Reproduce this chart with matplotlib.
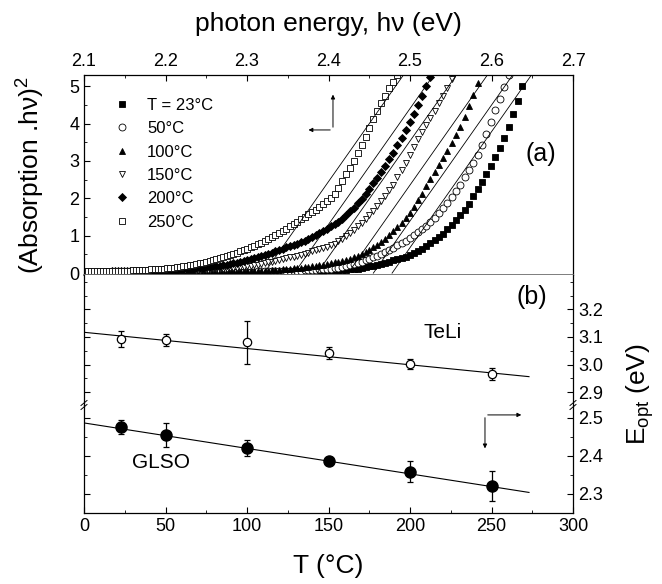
import numpy as np
import matplotlib
matplotlib.use("Agg")
import matplotlib.pyplot as plt
from matplotlib.lines import Line2D

plt.rcParams['font.family'] = ['Liberation Sans', 'DejaVu Sans']
plt.rcParams['mathtext.fontset'] = 'custom'
plt.rcParams['mathtext.rm'] = 'Liberation Sans'
plt.rcParams['axes.linewidth'] = 0.9

# ---- panel (a): (absorption * hv)^2 vs photon energy, one point per nm ----
wavelength_nm = np.arange(590, 459, -1)
hv = 1239.84 / wavelength_nm

temps_a = ['T = 23°C', '50°C', '100°C', '150°C', '200°C', '250°C']

abs23 = ([0.02] * 13 + [0.03] * 39 + [0.04] * 6 + [0.05] * 7 + [0.06] * 4
         + [0.07] * 4 + [0.08] * 4 + [0.09] * 2
         + [0.10, 0.11, 0.12, 0.14, 0.16, 0.18, 0.20, 0.23, 0.25, 0.28,
            0.31, 0.35, 0.38, 0.41, 0.44, 0.48, 0.53, 0.58, 0.65, 0.72,
            0.80, 0.88, 0.97, 1.06, 1.18, 1.30, 1.43, 1.56, 1.70, 1.86,
            2.05, 2.24, 2.44, 2.64, 2.86, 3.10, 3.35, 3.62, 3.92, 4.25,
            4.60, 5.00, 5.40])
abs50 = ([0.03] * 32 + [0.04] * 22 + [0.05] * 6 + [0.06] * 3 + [0.07] * 4
         + [0.08] * 2 + [0.09] * 2 + [0.10] * 2
         + [0.11, 0.12, 0.13, 0.15, 0.16, 0.18, 0.21, 0.24, 0.27, 0.30,
            0.34, 0.38, 0.42, 0.46, 0.51, 0.56, 0.62, 0.68, 0.74, 0.80,
            0.86, 0.93, 1.01, 1.09, 1.17, 1.26, 1.37, 1.48, 1.61, 1.74,
            1.88, 2.03, 2.20, 2.37, 2.56, 2.75, 2.94, 3.15, 3.43, 3.72,
            4.04, 4.36, 4.67, 4.98, 5.31, 5.65])
abs100 = ([0.03] * 31 + [0.04] * 14 + [0.05] * 6 + [0.06] * 4
          + [0.07, 0.07, 0.07, 0.08, 0.08, 0.09, 0.10, 0.11, 0.12, 0.13,
             0.14, 0.15, 0.16, 0.17, 0.18, 0.20, 0.21, 0.23, 0.25, 0.27,
             0.29, 0.31, 0.33, 0.36, 0.39, 0.43, 0.46, 0.50, 0.56, 0.62,
             0.69, 0.76, 0.84, 0.92, 1.02, 1.12, 1.23, 1.35, 1.48, 1.62,
             1.78, 1.95, 2.13, 2.32, 2.51, 2.70, 2.89, 3.08, 3.27, 3.47,
             3.69, 3.92, 4.18, 4.46, 4.76, 5.08, 5.40])
abs150 = ([0.03] * 7 + [0.04] * 15 + [0.05] * 8 + [0.06] * 4 + [0.07] * 4
          + [0.08, 0.08, 0.09, 0.10, 0.10, 0.11, 0.11, 0.12, 0.13, 0.14,
             0.15, 0.16, 0.17, 0.18, 0.20, 0.21, 0.23, 0.25, 0.27, 0.29,
             0.31, 0.33, 0.36, 0.38, 0.40, 0.42, 0.44, 0.46, 0.49, 0.52,
             0.55, 0.58, 0.61, 0.64, 0.67, 0.70, 0.74, 0.79, 0.85, 0.92,
             0.99, 1.07, 1.16, 1.25, 1.34, 1.44, 1.55, 1.67, 1.80, 1.93,
             2.07, 2.22, 2.37, 2.56, 2.75, 2.95, 3.16, 3.37, 3.58, 3.77,
             3.95, 4.14, 4.33, 4.54, 4.75, 4.96, 5.18, 5.40])
abs200 = ([0.04] * 9 + [0.05] * 10 + [0.06] * 4 + [0.07] * 4
          + [0.08, 0.08, 0.09, 0.09, 0.10, 0.10, 0.11, 0.11, 0.12, 0.13,
             0.14, 0.15, 0.16, 0.17, 0.18, 0.19, 0.20, 0.22, 0.23, 0.25,
             0.26, 0.28, 0.30, 0.33, 0.35, 0.37, 0.40, 0.43, 0.46, 0.49,
             0.52, 0.55, 0.58, 0.62, 0.65, 0.69, 0.72, 0.76, 0.79, 0.83,
             0.87, 0.92, 0.97, 1.02, 1.07, 1.13, 1.19, 1.25, 1.31, 1.38,
             1.46, 1.55, 1.65, 1.75, 1.87, 1.99, 2.12, 2.26, 2.40, 2.55,
             2.70, 2.86, 3.04, 3.22, 3.42, 3.62, 3.83, 4.05, 4.27, 4.50,
             4.75, 5.00, 5.25, 5.50])
abs250 = ([0.06] * 8 + [0.07] * 8 + [0.08] * 4
          + [0.09, 0.09, 0.10, 0.10, 0.11, 0.11, 0.12, 0.13, 0.14, 0.15,
             0.16, 0.17, 0.18, 0.19, 0.21, 0.22, 0.24, 0.26, 0.28, 0.30,
             0.32, 0.34, 0.37, 0.40, 0.43, 0.46, 0.49, 0.52, 0.55, 0.58,
             0.62, 0.65, 0.69, 0.73, 0.77, 0.81, 0.86, 0.91, 0.96, 1.01,
             1.07, 1.13, 1.19, 1.25, 1.31, 1.37, 1.44, 1.50, 1.57, 1.63,
             1.70, 1.77, 1.84, 1.92, 2.00, 2.13, 2.28, 2.46, 2.65, 2.82,
             3.00, 3.21, 3.42, 3.65, 3.88, 4.12, 4.35, 4.55, 4.75, 4.94,
             5.12, 5.31, 5.50])

# linear fits drawn in (a): x intercept (eV) and slope
fit_intercept_a = [2.478, 2.455, 2.424, 2.386, 2.358, 2.321]
fit_slope_a = [31, 31, 31, 31, 31, 31]

# ---- panel (b): optical gap vs temperature ----
T_b = [23, 50, 100, 150, 200, 250]
E_teli = [3.092, 3.089, 3.081, 3.041, 3.001, 2.965]
err_teli = [0.028, 0.022, 0.078, 0.022, 0.018, 0.021]
E_glso = [2.476, 2.455, 2.420, 2.386, 2.358, 2.321]
err_glso = [0.018, 0.032, 0.020, 0.010, 0.027, 0.040]
teli_fit = (3.117, -0.00059)
glso_fit = (2.486, -0.000667)
T_fit_end = 273

W, H = 662, 584
fig = plt.figure(figsize=(W / 100, H / 100), dpi=100)

def fx(px):
    return px / W

def fy(py):
    return 1 - py / H

left, right = 84, 573
top_a, div_ab, brk, bot = 75, 275, 405, 513

ax_a = fig.add_axes([fx(left), fy(div_ab), fx(right - left), fy(top_a) - fy(div_ab)])
ax_up = fig.add_axes([fx(left), fy(brk), fx(right - left), fy(div_ab) - fy(brk)])
ax_lo = fig.add_axes([fx(left), fy(bot), fx(right - left), fy(brk) - fy(bot)])

# panel (a)
styles = [dict(marker='s', mfc='black'),
          dict(marker='o', mfc='white'),
          dict(marker='^', mfc='black'),
          dict(marker='v', mfc='white'),
          dict(marker='D', mfc='black', ms=4.2),
          dict(marker='s', mfc='white')]
series = [abs23, abs50, abs100, abs150, abs200, abs250]
handles = []
for vals, st, lab in zip(series, styles, temps_a):
    kw = dict(ms=5.0, mec='black', mew=0.6, ls='none')
    kw.update(st)
    ax_a.plot(hv[:len(vals)], vals, clip_on=True, **kw)
    handles.append(Line2D([], [], label=lab, **kw))

for e0, s in zip(fit_intercept_a, fit_slope_a):
    ax_a.plot([e0, e0 + 5.6 / s], [0, 5.6], color='black', lw=0.6)

ax_a.set_xlim(2.1, 2.7)
ax_a.set_ylim(-0.05, 5.3)
ax_a.xaxis.tick_top()
ax_a.xaxis.set_label_position('top')
ax_a.set_xticks(np.arange(2.1, 2.71, 0.1))
ax_a.set_xticks(np.arange(2.15, 2.7, 0.1), minor=True)
ax_a.set_yticks(range(0, 6))
ax_a.set_yticks(np.arange(0.5, 5.3, 0.5), minor=True)
ax_a.tick_params(which='both', direction='in', top=True, bottom=False,
                 right=False, labelsize=13)
ax_a.tick_params(which='major', length=4)
ax_a.tick_params(which='minor', length=2.5)
ax_a.set_xlabel('photon energy, hν (eV)', fontsize=19, labelpad=16)
ax_a.spines['bottom'].set_color('0.45')
ax_a.spines['bottom'].set_linewidth(1.3)

ax_a.legend(handles=handles, loc='upper left', bbox_to_anchor=(0.03, 0.96),
            frameon=False, fontsize=12, handlelength=1.0, handletextpad=1.0,
            labelspacing=0.5, numpoints=1)
ax_a.text(2.66, 3.2, '(a)', fontsize=18, ha='center', va='center')
ax_a.annotate('', xy=(2.4055, 4.85), xytext=(2.4055, 3.83),
              arrowprops=dict(arrowstyle='-|>', lw=0.7, color='black', mutation_scale=6))
ax_a.annotate('', xy=(2.372, 3.83), xytext=(2.4055, 3.83),
              arrowprops=dict(arrowstyle='-|>', lw=0.7, color='black', mutation_scale=6))

# panel (b), upper part (TeLi)
T_line = np.array([0, T_fit_end])
ax_up.errorbar(T_b, E_teli, yerr=err_teli, fmt='o', ms=6, mfc='white', mec='black',
               mew=0.9, ecolor='black', elinewidth=0.9, capsize=2.5, capthick=0.9)
ax_up.plot(T_line, teli_fit[0] + teli_fit[1] * T_line, color='black', lw=0.8)
ax_up.set_ylim(2.853, 3.325)
ax_up.text(220, 3.118, 'TeLi', fontsize=15, ha='center', va='center')
ax_up.text(275, 3.245, '(b)', fontsize=18, ha='center', va='center')

# panel (b), lower part (GLSO)
ax_lo.errorbar(T_b, E_glso, yerr=err_glso, fmt='o', ms=8, mfc='black', mec='black',
               ecolor='black', elinewidth=0.9, capsize=2.5, capthick=0.9)
ax_lo.plot(T_line, glso_fit[0] + glso_fit[1] * T_line, color='black', lw=0.8)
ax_lo.set_ylim(2.25, 2.533)
ax_lo.text(47, 2.382, 'GLSO', fontsize=15, ha='center', va='center')
ax_lo.annotate('', xy=(246, 2.412), xytext=(246, 2.507),
               arrowprops=dict(arrowstyle='-|>', lw=0.7, color='black', mutation_scale=6))
ax_lo.annotate('', xy=(270, 2.507), xytext=(246, 2.507),
               arrowprops=dict(arrowstyle='-|>', lw=0.7, color='black', mutation_scale=6))

for ax in (ax_up, ax_lo):
    ax.set_xlim(0, 300)
    ax.tick_params(which='both', direction='in', left=True, right=True,
                   labelleft=False, labelright=True, labelsize=13)
    ax.tick_params(which='major', length=4)
    ax.tick_params(which='minor', length=2.5)

ax_up.set_yticks([2.9, 3.0, 3.1, 3.2])
ax_up.set_yticklabels(['2.9', '3.0', '3.1', '3.2'])
ax_up.set_yticks([2.95, 3.05, 3.15, 3.25, 3.3], minor=True)
ax_up.tick_params(axis='x', which='both', bottom=False, top=False, labelbottom=False)
ax_up.spines['top'].set_visible(False)
ax_up.spines['bottom'].set_visible(False)

ax_lo.set_yticks([2.3, 2.4, 2.5])
ax_lo.set_yticks([2.35, 2.45], minor=True)
ax_lo.set_xticks(range(0, 301, 50))
ax_lo.set_xticks(range(25, 300, 50), minor=True)
ax_lo.tick_params(axis='x', which='both', top=False)
ax_lo.spines['top'].set_visible(False)
ax_lo.set_xlabel('T (°C)', fontsize=19, labelpad=14)

# break marks on both spines
for px in (left, right):
    for dy in (-2, 2):
        fig.add_artist(Line2D([fx(px - 3), fx(px + 3)],
                              [fy(brk + dy + 2.5), fy(brk + dy - 2.5)],
                              color='black', lw=0.7))

fig.text(fx(30), fy(175), '(Absorption .hν)$^\\mathregular{2}$', rotation=90,
         fontsize=19, ha='center', va='center')
fig.text(fx(640), fy(394), r'$\mathregular{E_{opt}}$ (eV)', rotation=90,
         fontsize=19, ha='center', va='center')

fig.savefig('out.png', dpi=100)
